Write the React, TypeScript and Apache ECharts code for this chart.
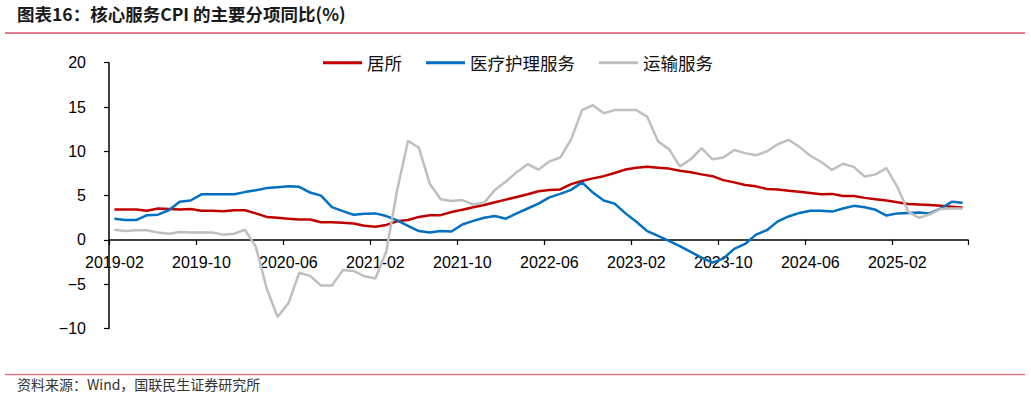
import React, { useEffect, useRef } from "react";
import * as echarts from "echarts";

const START_YEAR = 2019;
const START_MONTH = 2;
const MONTH_COUNT = 79;

const months: string[] = [];
for (let i = 0; i < MONTH_COUNT; i++) {
  const m = START_MONTH - 1 + i;
  const y = START_YEAR + Math.floor(m / 12);
  const mm = (m % 12) + 1;
  months.push(`${y}-${mm < 10 ? "0" + mm : mm}`);
}

const seriesNames = ["居所", "医疗护理服务", "运输服务"];

const housing = [
  3.45, 3.45, 3.45, 3.3, 3.55, 3.5, 3.45, 3.5, 3.3, 3.3, 3.25, 3.35, 3.35, 3.0, 2.6, 2.5, 2.4, 2.3, 2.3, 2.0,
  2.0, 1.95, 1.85, 1.6, 1.5, 1.7, 2.1, 2.25, 2.6, 2.8, 2.8, 3.15, 3.4, 3.7, 3.95, 4.25, 4.55, 4.85, 5.15, 5.5,
  5.65, 5.7, 6.3, 6.65, 6.95, 7.2, 7.55, 7.95, 8.15, 8.25, 8.15, 8.05, 7.8, 7.65, 7.4, 7.2, 6.75, 6.5, 6.2, 6.05,
  5.75, 5.7, 5.55, 5.45, 5.3, 5.15, 5.2, 4.95, 4.95, 4.75, 4.6, 4.45, 4.25, 4.05, 4.0, 3.95, 3.85, 3.75, 3.65,
];

const medical = [
  2.4, 2.25, 2.25, 2.8, 2.85, 3.35, 4.3, 4.45, 5.15, 5.15, 5.15, 5.15, 5.4, 5.6, 5.85, 5.95, 6.05, 6.0, 5.35, 5.0,
  3.7, 3.25, 2.85, 2.95, 3.0, 2.7, 2.2, 1.6, 1.0, 0.85, 1.0, 0.95, 1.75, 2.15, 2.5, 2.7, 2.4, 3.0, 3.55, 4.1,
  4.8, 5.2, 5.65, 6.5, 5.35, 4.45, 4.1, 3.0, 2.05, 1.0, 0.45, -0.1, -0.7, -1.35, -2.0, -2.55, -2.1, -1.0, -0.45, 0.6,
  1.1, 2.1, 2.65, 3.05, 3.3, 3.3, 3.2, 3.55, 3.85, 3.7, 3.4, 2.75, 3.0, 3.05, 3.1, 3.0, 3.55, 4.3, 4.2,
];

const transport = [
  1.15, 1.0, 1.1, 1.1, 0.85, 0.7, 0.9, 0.85, 0.85, 0.85, 0.6, 0.7, 1.15, -0.75, -5.45, -8.7, -7.15, -3.7, -4.05, -5.15,
  -5.15, -3.4, -3.5, -4.1, -4.35, -1.3, 5.6, 11.2, 10.4, 6.35, 4.6, 4.4, 4.5, 4.0, 4.2, 5.65, 6.6, 7.65, 8.55, 7.95,
  8.85, 9.3, 11.35, 14.65, 15.2, 14.3, 14.65, 14.65, 14.65, 13.9, 11.1, 10.25, 8.3, 9.1, 10.35, 9.1, 9.3, 10.15, 9.8, 9.55,
  10.0, 10.8, 11.3, 10.5, 9.5, 8.8, 7.9, 8.6, 8.25, 7.15, 7.4, 8.1, 6.0, 3.2, 2.5, 2.9, 3.5, 3.55, 3.55,
];

const colors = ["#C00000", "#0070C0", "#BFBFBF"];

const TITLE = "图表16：核心服务CPI 的主要分项同比(%)";
const SOURCE = "资料来源：Wind，国联民生证券研究所";

const Y_MIN = -10;
const Y_MAX = 20;
const GRID_TOP = 62.7;
const GRID_BOTTOM = 69.4;
const CHART_H = 398;

export default function App() {
  const ref = useRef<HTMLDivElement>(null);

  useEffect(() => {
    if (!ref.current) return;
    const chart = echarts.init(ref.current, null, { renderer: "svg" });
    const values = [housing, medical, transport];
    const plotH = CHART_H - GRID_TOP - GRID_BOTTOM;
    const zeroShift = (plotH * (0 - Y_MIN)) / (Y_MAX - Y_MIN);
    chart.setOption({
      animation: false,
      backgroundColor: "#ffffff",
      graphic: [
        {
          type: "text",
          left: 17,
          top: 5,
          style: {
            text: TITLE,
            fontFamily: "Noto Sans CJK SC",
            fontWeight: "bold",
            fontSize: 17.5,
            fill: "#1a1a1a",
          },
        },
        {
          type: "line",
          shape: { x1: 5, y1: 33, x2: 1025, y2: 33 },
          style: { stroke: "#D2506A", lineWidth: 1.5 },
        },
        {
          type: "line",
          shape: { x1: 5, y1: 374.5, x2: 1025, y2: 374.5 },
          style: { stroke: "#DC7A8C", lineWidth: 1.5 },
        },
        {
          type: "text",
          left: 17,
          top: 377,
          style: {
            text: SOURCE,
            fontFamily: "Noto Sans CJK SC",
            fontSize: 14,
            fill: "#333333",
          },
        },
      ],
      legend: {
        left: 323,
        top: 54,
        padding: 0,
        itemWidth: 39,
        itemHeight: 3,
        itemGap: 24,
        icon: "rect",
        textStyle: {
          fontFamily: "Noto Sans CJK SC",
          fontSize: 17.5,
          color: "#111111",
        },
        data: seriesNames,
      },
      grid: {
        left: 109,
        right: 63,
        top: GRID_TOP,
        bottom: GRID_BOTTOM,
      },
      xAxis: {
        type: "category",
        data: months,
        boundaryGap: true,
        offset: -zeroShift,
        axisLine: { show: true, onZero: false, lineStyle: { color: "#000000", width: 1.5 } },
        axisTick: { show: true, interval: 7, length: 5, lineStyle: { color: "#000000", width: 1.2 } },
        axisLabel: {
          interval: 7,
          margin: 15,
          fontFamily: "Liberation Sans",
          fontSize: 16,
          color: "#000000",
        },
        splitLine: { show: false },
      },
      yAxis: {
        type: "value",
        min: Y_MIN,
        max: Y_MAX,
        interval: 5,
        axisLine: { show: true, lineStyle: { color: "#000000", width: 1.5 } },
        axisTick: { show: true, length: 5, lineStyle: { color: "#000000", width: 1.2 } },
        axisLabel: {
          margin: 23,
          fontFamily: "Liberation Sans",
          fontSize: 16,
          color: "#000000",
          formatter: (v: number) => (v < 0 ? "\u2212" + Math.abs(v) : String(v)),
        },
        splitLine: { show: false },
      },
      series: seriesNames.map((name, k) => ({
        name,
        type: "line",
        data: values[k],
        symbol: "none",
        lineStyle: { width: 2.5, color: colors[k] },
        itemStyle: { color: colors[k] },
      })),
    });
    return () => chart.dispose();
  }, []);

  return (
    <div
      ref={ref}
      style={{ position: "fixed", left: 0, top: 0, width: 1031, height: 398, background: "#fff" }}
    />
  );
}
